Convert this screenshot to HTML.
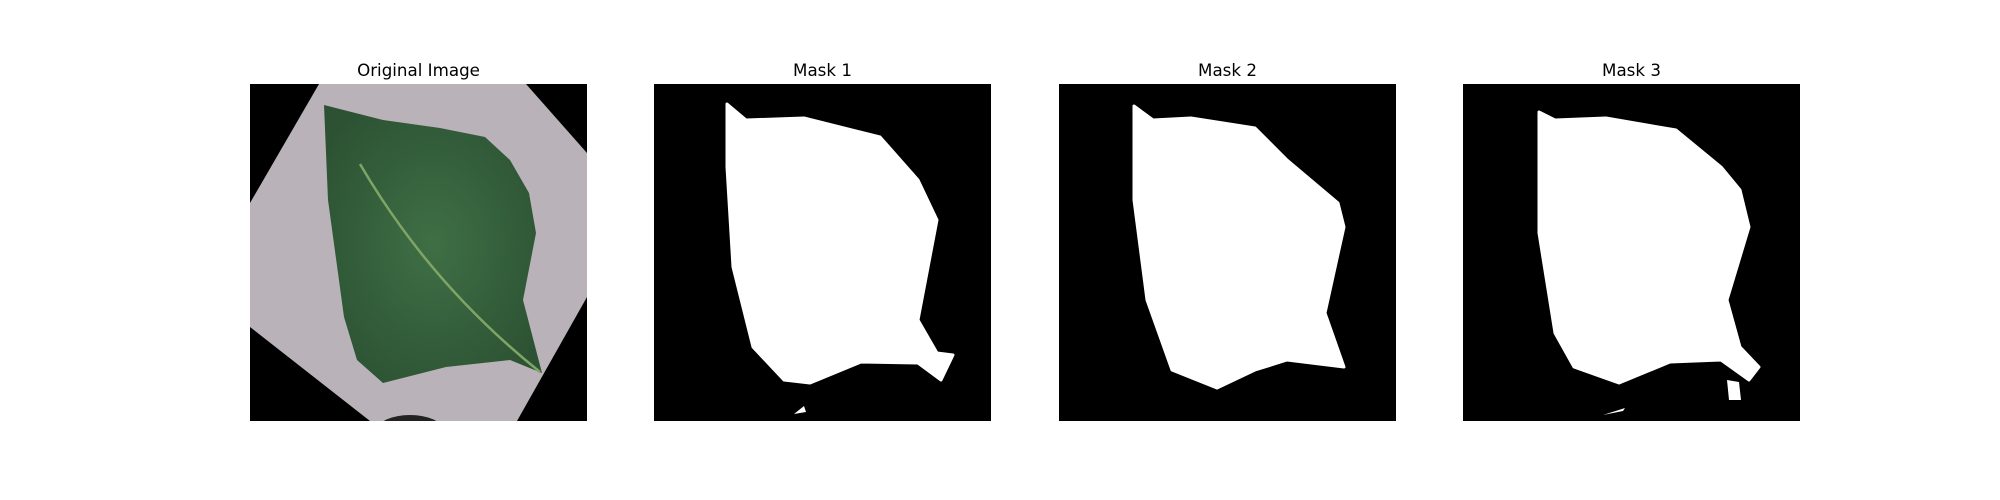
<!DOCTYPE html>
<html><head><meta charset="utf-8"><style>
html,body{margin:0;padding:0;background:#fff;}
svg{display:block;}
text{font-family:"DejaVu Sans","Liberation Sans",sans-serif;font-size:16.7px;fill:#000;}
</style></head><body>
<svg width="2000" height="500" viewBox="0 0 2000 500">
<defs>
<radialGradient id="lg" cx="0.5" cy="0.5" r="0.6">
<stop offset="0" stop-color="#3f6f45"/><stop offset="1" stop-color="#2c5233"/>
</radialGradient>
<clipPath id="pc"><rect width="337" height="337"/></clipPath>
</defs>
<g transform="translate(250,84)" clip-path="url(#pc)">
<rect width="337" height="337" fill="#000"/>
<polygon points="69,0 276,0 337,69 337,213 267,337 120,337 0,243 0,119" fill="#b9b2b8"/>
<path d="M74,21 L133,36 L190,44 L235,53 L260,76 L279,109 L286,149 L273,216 L292,289 L260,276 L196,283 L133,299 L107,276 L94,233 L78,116 Z" fill="url(#lg)"/>
<path d="M110,80 Q180,200 290,288" stroke="#7fa566" stroke-width="2.5" fill="none"/>
<ellipse cx="160" cy="345" rx="32" ry="14" fill="#222"/>
</g>
<text x="418.5" y="76" text-anchor="middle">Original Image</text>

<g transform="translate(654,84)">
<rect width="337" height="337" fill="#000"/>
<path d="M73,20 L92,36 L150,34 L226,53 L264,96 L283,136 L264,236 L283,269 L299,271 L287,296 L264,279 L207,278 L156,299 L130,296 L99,263 L79,183 L73,83 Z" fill="#fff" stroke="#fff" stroke-linejoin="round" stroke-width="3"/>
<path d="M140,330 L150,322 L152,328 Z" fill="#fff"/>
</g>
<text x="822.5" y="76" text-anchor="middle">Mask 1</text>

<g transform="translate(1059,84)">
<rect width="337" height="337" fill="#000"/>
<path d="M75,22 L94,36 L132,34 L196,44 L228,76 L260,103 L279,119 L285,143 L266,229 L285,283 L228,276 L196,286 L158,304 L113,286 L88,216 L75,116 Z" fill="#fff" stroke="#fff" stroke-linejoin="round" stroke-width="3"/>
</g>
<text x="1227.5" y="76" text-anchor="middle">Mask 2</text>

<g transform="translate(1463,84)">
<rect width="337" height="337" fill="#000"/>
<path d="M76,28 L92,36 L143,34 L213,46 L258,83 L277,106 L286,143 L264,216 L277,263 L296,283 L286,296 L258,276 L207,278 L156,299 L111,283 L92,249 L76,149 Z" fill="#fff" stroke="#fff" stroke-linejoin="round" stroke-width="3"/>
<path d="M264,296 L276,298 L278,316 L266,316 Z" fill="#fff"/>
<path d="M140,331 L162,324 L160,327 Z" fill="#fff"/>
</g>
<text x="1631.5" y="76" text-anchor="middle">Mask 3</text>
</svg>
</body></html>
